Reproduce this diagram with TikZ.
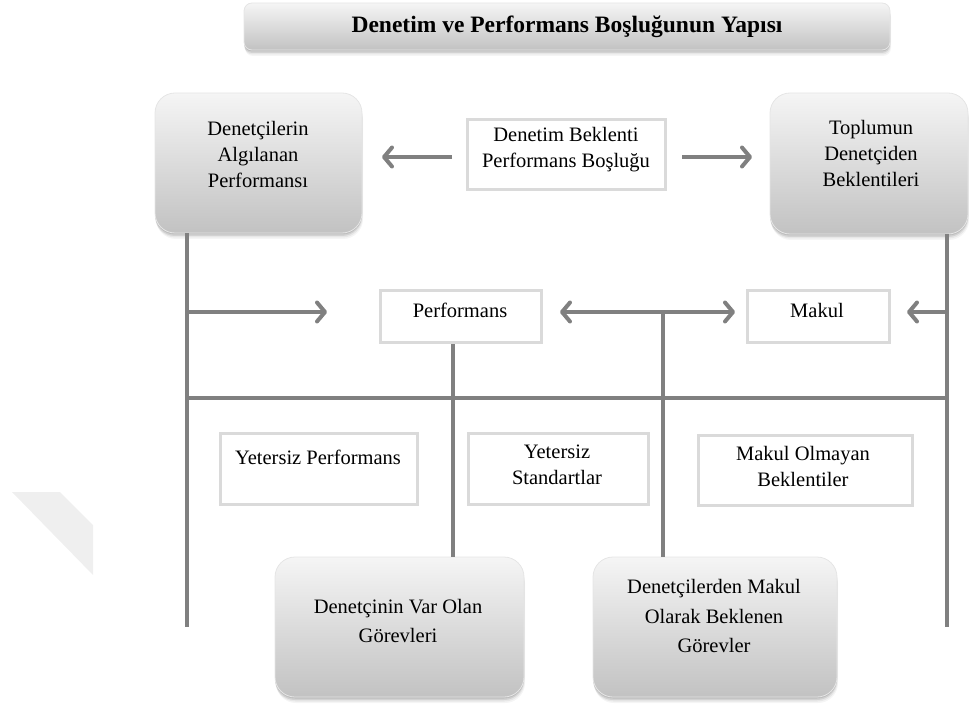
\documentclass[tikz,border=0pt]{standalone}
\usepackage{fontspec}
\setmainfont{Liberation Serif}
\usetikzlibrary{arrows.meta,shadows}
\definecolor{linegray}{RGB}{128,128,128}
\definecolor{framegray}{RGB}{218,218,218}
\definecolor{shadetop}{RGB}{245,245,245}
\definecolor{shadebot}{RGB}{194,194,194}
\definecolor{markgray}{RGB}{239,239,239}
\begin{document}
\begin{tikzpicture}[x=1pt,y=-1pt,
  softshadow/.style={
    general shadow={fill=black,opacity=.04,shadow yshift=-6pt,shadow xshift=1pt},
    general shadow={fill=black,opacity=.06,shadow yshift=-4.5pt,shadow xshift=.5pt},
    general shadow={fill=black,opacity=.09,shadow yshift=-3pt},
    general shadow={fill=black,opacity=.10,shadow yshift=-1.5pt}},
  roundbox/.style={rounded corners=20pt, top color=shadetop, bottom color=shadebot,
    draw=black!10, line width=.8pt, softshadow, inner sep=0pt},
  titlebox/.style={rounded corners=8pt, top color=shadetop, bottom color=shadebot,
    draw=black!10, line width=.8pt, softshadow, inner sep=0pt,
    font=\bfseries\fontsize{23.5}{28}\selectfont},
  framebox/.style={draw=framegray, line width=3pt, fill=white, inner sep=0pt},
  txt/.style={align=center, inner sep=0pt, font=\fontsize{20.5}{26}\selectfont},
  txtwide/.style={txt, font=\fontsize{20.5}{29.5}\selectfont},
  conn/.style={draw=linegray, line width=4pt},
  barb/.tip={Straight Barb[length=8pt,width=19pt,round]},
  arr/.style={conn, -barb},
  dblarr/.style={conn, barb-barb},
]
\useasboundingbox (0,0) rectangle (969,708);

% faint corner mark on the left margin
\fill[markgray] (12,492) -- (60,492) -- (93,525) -- (93,575) -- cycle;

% title
\node[titlebox, minimum width=646pt, minimum height=47pt] (title) at (567,26.5)
  {Denetim ve Performans Boşluğunun Yapısı};

% upper row
\node[roundbox, minimum width=207pt, minimum height=140pt] (tl) at (258.5,163) {};
\node[txt] (tl-t) at (258,154) {Denetçilerin\\Algılanan\\Performansı};
\node[roundbox, minimum width=198pt, minimum height=141pt] (tr) at (869,163.5) {};
\node[txt] (tr-t) at (871,153) {Toplumun\\Denetçiden\\Beklentileri};
\node[framebox, minimum width=198pt, minimum height=70pt] (gap) at (566,155) {};
\node[txt] (gap-t) at (566,150) {Denetim Beklenti\\Performans Boşluğu};

% middle row
\node[framebox, minimum width=161pt, minimum height=52pt] (perf) at (460.5,317) {};
\node[txt] (perf-t) at (460,310) {Performans};
\node[framebox, minimum width=142pt, minimum height=52pt] (makul) at (818,317) {};
\node[txt] (makul-t) at (817,310) {Makul};

% lower row of frames
\node[framebox, minimum width=197pt, minimum height=71pt] (yp) at (318.5,468.5) {};
\node[txt] (yp-t) at (318,457) {Yetersiz Performans};
\node[framebox, minimum width=180pt, minimum height=71pt] (ys) at (558,468.5) {};
\node[txt] (ys-t) at (557,464.5) {Yetersiz\\Standartlar};
\node[framebox, minimum width=214pt, minimum height=70pt] (mob) at (805,470) {};
\node[txt] (mob-t) at (803,466.5) {Makul Olmayan\\Beklentiler};

% bottom boxes
\node[roundbox, minimum width=249pt, minimum height=140pt] (bl) at (399.5,627) {};
\node[txtwide] (bl-t) at (398,621) {Denetçinin Var Olan\\Görevleri};
\node[roundbox, minimum width=244pt, minimum height=140pt] (br) at (715,627) {};
\node[txtwide] (br-t) at (714,616) {Denetçilerden Makul\\Olarak Beklenen\\Görevler};

% guide positions for the connectors
\coordinate (xL) at (187,0);
\coordinate (xR) at (947,0);
\coordinate (xP) at (453,0);
\coordinate (xM) at (663,0);
\coordinate (yH) at (0,398);
\coordinate (yA) at (0,312);
\coordinate (yE) at (0,627);
\coordinate (upL0) at (452,157);
\coordinate (upL1) at (382,157);
\coordinate (upR0) at (682,157);
\coordinate (upR1) at (752,157);
\coordinate (inL) at (327,312);
\coordinate (dbl0) at (560,312);
\coordinate (dbl1) at (735,312);
\coordinate (inR) at (907,312);

% connectors
\draw[conn] (tl.south -| xL) -- (xL |- yE);
\draw[conn] (tr.south -| xR) -- (xR |- yE);
\draw[conn] (xL |- yH) -- (xR |- yH);
\draw[conn] (perf.south -| xP) -- (bl.north -| xP);
\draw[conn] (xM |- yA) -- (br.north -| xM);
\draw[arr] (upL0) -- (upL1);
\draw[arr] (upR0) -- (upR1);
\draw[arr] (xL |- yA) -- (inL);
\draw[dblarr] (dbl0) -- (dbl1);
\draw[arr] (xR |- yA) -- (inR);
\end{tikzpicture}
\end{document}
